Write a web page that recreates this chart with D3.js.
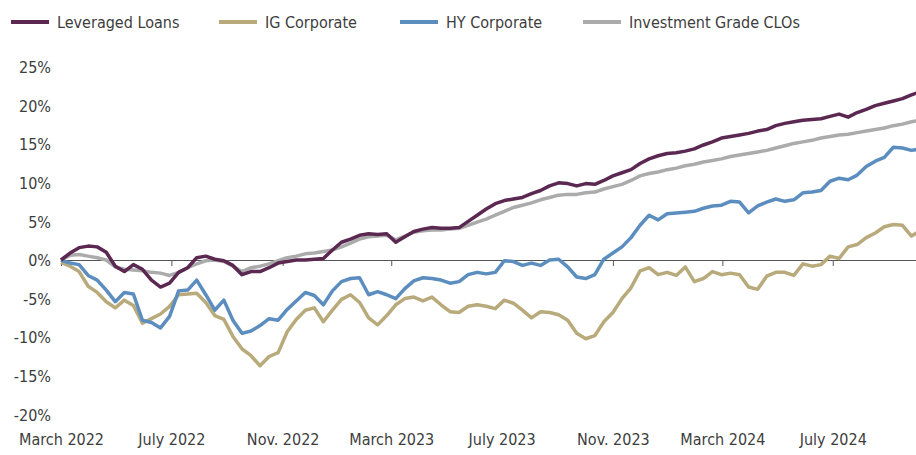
<!DOCTYPE html>
<html>
<head>
<meta charset="utf-8">
<script src="https://cdn.jsdelivr.net/npm/d3@7"></script>
<style>
  body { margin: 0; background: #fff; }
  svg text { font-family: "Liberation Sans Narrow", "DejaVu Sans Condensed", sans-serif; fill: #3d3d3d; }
</style>
</head>
<body>
<div id="chart"></div>
<script>
// series values (%), one point every 10 days from 1 March 2022
const leveragedLoans = [0, 0.9, 1.6, 1.8, 1.7, 1.0, -0.8, -1.5, -0.6, -1.2,
  -2.6, -3.5, -3.0, -1.6, -1.0, 0.3, 0.5, 0.1, -0.1, -0.7,
  -1.9, -1.5, -1.5, -1.0, -0.4, -0.2, 0, 0, 0.1, 0.2,
  1.3, 2.3, 2.7, 3.2, 3.4, 3.3, 3.4, 2.3, 3.0, 3.7,
  4.0, 4.2, 4.1, 4.1, 4.2, 5.0, 5.8, 6.6, 7.3, 7.7,
  7.9, 8.1, 8.6, 9.0, 9.6, 10.0, 9.9, 9.6, 9.9, 9.8,
  10.3, 10.9, 11.3, 11.7, 12.5, 13.1, 13.5, 13.8, 13.9, 14.1,
  14.4, 14.9, 15.3, 15.8, 16.0, 16.2, 16.4, 16.7, 16.9, 17.4,
  17.7, 17.9, 18.1, 18.2, 18.3, 18.6, 18.9, 18.5, 19.1, 19.5,
  20.0, 20.3, 20.6, 20.9, 21.4, 21.8];

const igCorporate = [-0.3, -0.8, -1.5, -3.4, -4.2, -5.4, -6.2, -5.2, -5.9, -8.2,
  -7.6, -7.0, -6.0, -4.5, -4.4, -4.3, -5.5, -7.2, -7.7, -9.9,
  -11.5, -12.4, -13.7, -12.5, -12.0, -9.3, -7.7, -6.5, -6.2, -8.0,
  -6.5, -5.1, -4.5, -5.5, -7.5, -8.4, -7.2, -5.8, -5.0, -4.8,
  -5.3, -4.8, -5.8, -6.7, -6.8, -6.0, -5.8, -6.0, -6.3, -5.2,
  -5.6, -6.5, -7.5, -6.7, -6.8, -7.1, -7.8, -9.5, -10.2, -9.8,
  -8.0, -6.8, -5.0, -3.6, -1.4, -1.0, -1.9, -1.6, -2.0, -0.9,
  -2.8, -2.4, -1.5, -1.9, -1.7, -1.9, -3.5, -3.8, -2.1, -1.6,
  -1.6, -2.0, -0.5, -0.8, -0.6, 0.5, 0.2, 1.7, 2.0, 2.9,
  3.5, 4.3, 4.6, 4.5, 3.1, 3.8];

const hyCorporate = [0, -0.4, -0.6, -2.0, -2.6, -3.9, -5.4, -4.2, -4.4, -7.8,
  -8.1, -8.8, -7.3, -4.0, -3.9, -2.6, -4.5, -6.5, -5.2, -7.8,
  -9.5, -9.2, -8.5, -7.6, -7.8, -6.4, -5.3, -4.2, -4.6, -5.8,
  -4.0, -2.8, -2.4, -2.3, -4.5, -4.1, -4.5, -5.0, -3.7, -2.7,
  -2.3, -2.4, -2.6, -3.0, -2.8, -1.9, -1.6, -1.8, -1.6, -0.1,
  -0.2, -0.7, -0.4, -0.7, 0, 0.1, -0.9, -2.2, -2.4, -1.9,
  0.1, 0.9, 1.7, 2.9, 4.5, 5.8, 5.2, 6.0, 6.1, 6.2,
  6.3, 6.7, 7.0, 7.1, 7.6, 7.5, 6.1, 7.0, 7.5, 7.9,
  7.6, 7.8, 8.7, 8.8, 9.0, 10.2, 10.6, 10.4, 11.0, 12.1,
  12.8, 13.3, 14.6, 14.5, 14.2, 14.4];

const igClos = [0, 0.6, 0.7, 0.5, 0.3, 0, -0.9, -1.2, -1.3, -1.4,
  -1.6, -1.7, -2.0, -1.6, -1.0, -0.5, -0.1, 0, -0.2, -0.8,
  -1.5, -1.0, -0.8, -0.5, -0.1, 0.3, 0.5, 0.8, 0.9, 1.1,
  1.3, 1.7, 2.2, 2.7, 3.0, 3.1, 3.2, 2.6, 3.1, 3.6,
  3.8, 3.9, 3.9, 4.0, 4.1, 4.5, 4.9, 5.3, 5.8, 6.3,
  6.8, 7.1, 7.4, 7.8, 8.1, 8.4, 8.5, 8.5, 8.7, 8.8,
  9.2, 9.5, 9.8, 10.3, 10.9, 11.2, 11.4, 11.7, 11.9, 12.2,
  12.4, 12.7, 12.9, 13.1, 13.4, 13.6, 13.8, 14.0, 14.2, 14.5,
  14.8, 15.1, 15.3, 15.5, 15.8, 16.0, 16.2, 16.3, 16.5, 16.7,
  16.9, 17.1, 17.4, 17.6, 17.9, 18.1];

const seriesNames = ["Leveraged Loans", "IG Corporate", "HY Corporate", "Investment Grade CLOs"];
const seriesColors = ["#5b2851", "#b8aa7b", "#5b8dbf", "#ababab"];

const tickDates = ["2022-03-01", "2022-07-01", "2022-11-01", "2023-03-01",
  "2023-07-01", "2023-11-01", "2024-03-01", "2024-07-01"];
const tickLabels = ["March 2022", "July 2022", "Nov. 2022", "March 2023",
  "July 2023", "Nov. 2023", "March 2024", "July 2024"];
const yTicks = [-20, -15, -10, -5, 0, 5, 10, 15, 20, 25];

const width = 916, height = 455;
const start = new Date(2022, 2, 1);
const dates = leveragedLoans.map((d, i) => d3.timeDay.offset(start, i * 10));

const series = [leveragedLoans, igCorporate, hyCorporate, igClos].map((vals, k) => ({
  name: seriesNames[k],
  color: seriesColors[k],
  values: vals.map((v, i) => ({ date: dates[i], value: v }))
}));

const svg = d3.select("#chart").append("svg")
  .attr("width", width)
  .attr("height", height);

const x = d3.scaleTime()
  .domain([new Date(2022, 2, 1), new Date(2024, 9, 1)])
  .range([61, 916]);

const y = d3.scaleLinear()
  .domain([-20, 25])
  .range([414.4, 67]);

const parse = d3.timeParse("%Y-%m-%d");

// y labels
const yAxis = svg.append("g")
  .attr("transform", "translate(51,0)")
  .call(d3.axisLeft(y).tickValues(yTicks).tickFormat(d => d + "%").tickSize(0).tickPadding(0));
yAxis.select(".domain").remove();
yAxis.selectAll("text").style("font-size", "16px").attr("dy", "0.35em");

// zero line with ticks
const zeroAxis = svg.append("g")
  .attr("transform", `translate(0,${y(0)})`)
  .call(d3.axisBottom(x).tickValues(tickDates.map(parse)).tickFormat("").tickSize(6).tickSizeOuter(0));
zeroAxis.select(".domain").attr("stroke", "#555");
zeroAxis.selectAll(".tick line").attr("stroke", "#555");

// bottom labels
const xLabels = svg.append("g")
  .attr("transform", "translate(0,434)")
  .call(d3.axisBottom(x).tickValues(tickDates.map(parse))
    .tickFormat((d, i) => tickLabels[i]).tickSize(0).tickPadding(0));
xLabels.select(".domain").remove();
xLabels.selectAll("text").style("font-size", "16px");

const line = d3.line()
  .x(d => x(d.date))
  .y(d => y(d.value));

// draw order: CLOs, IG, HY, Leveraged Loans on top
[3, 1, 2, 0].forEach(k => {
  svg.append("path")
    .datum(series[k].values)
    .attr("fill", "none")
    .attr("stroke", series[k].color)
    .attr("stroke-width", 3.5)
    .attr("stroke-linejoin", "round")
    .attr("d", line);
});

// legend
const legendX = [11, 219, 400, 583];
const legend = svg.append("g").selectAll("g")
  .data(series)
  .join("g")
  .attr("transform", (d, i) => `translate(${legendX[i]},22)`);

legend.append("line")
  .attr("x1", 0).attr("x2", 38)
  .attr("stroke", d => d.color)
  .attr("stroke-width", 4);

legend.append("text")
  .attr("x", 46)
  .attr("dy", "0.35em")
  .style("font-size", "16px")
  .text(d => d.name);
</script>
</body>
</html>
